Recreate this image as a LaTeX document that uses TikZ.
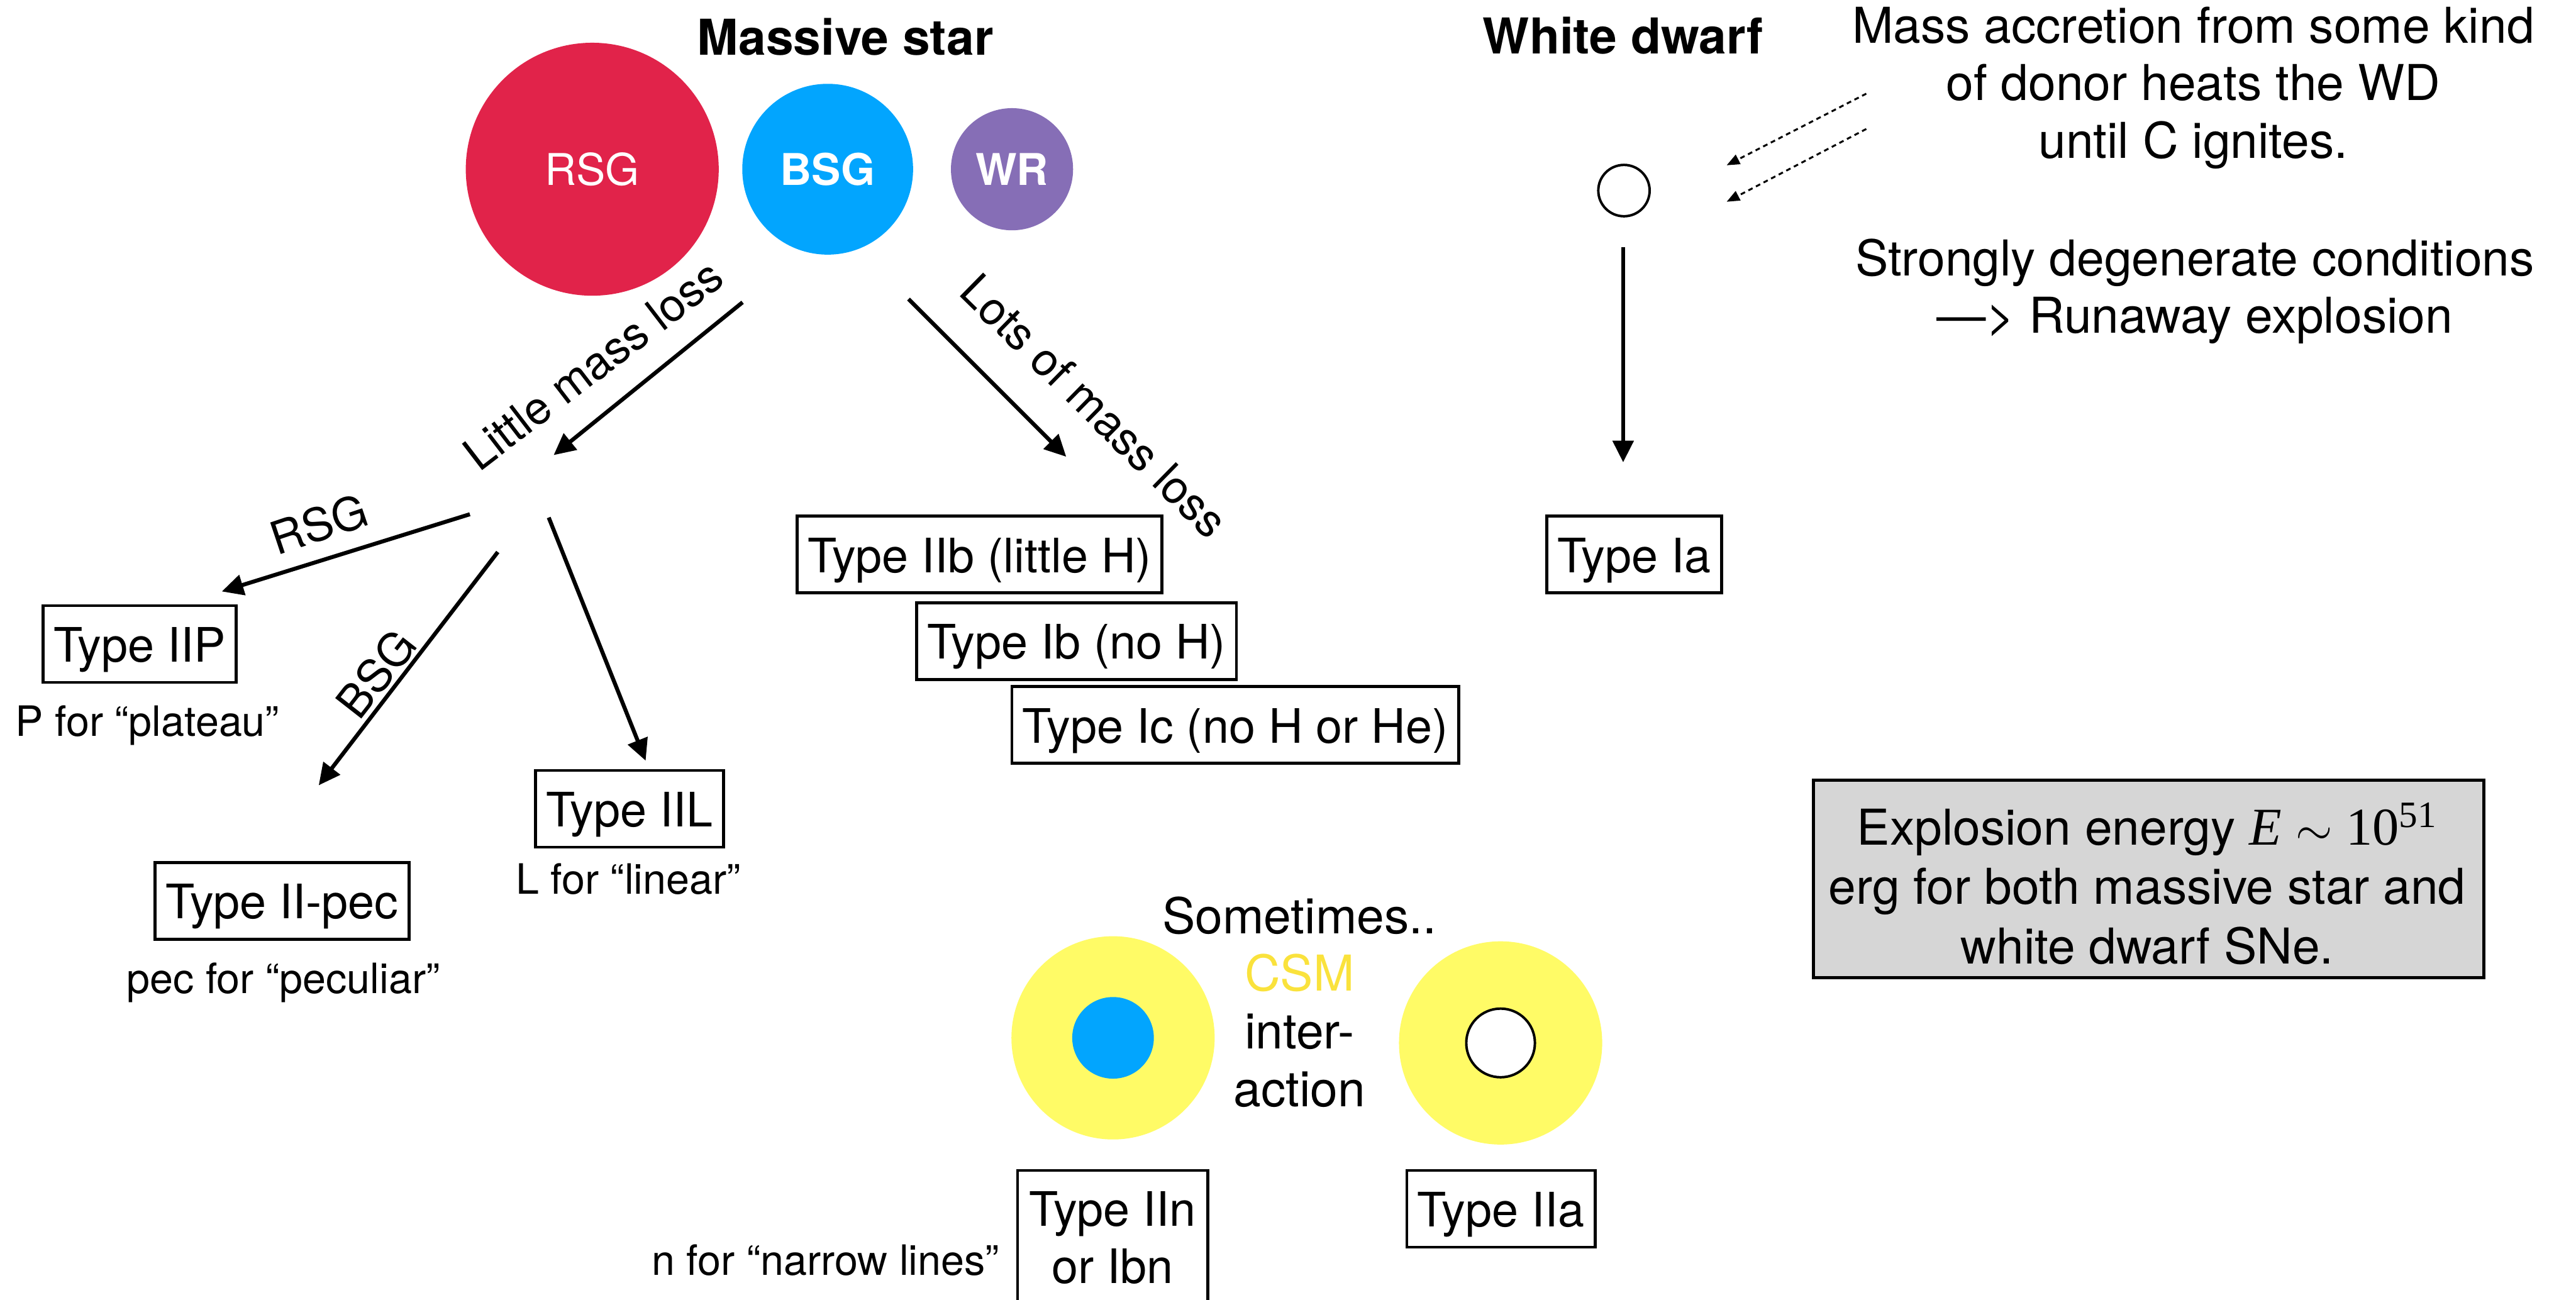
\documentclass[tikz,border=0pt]{standalone}
\usepackage{fontspec}
\setmainfont{TeX Gyre Heros}
\newfontfamily\serifE{Liberation Serif}
\usetikzlibrary{arrows.meta}
\definecolor{rsgred}{RGB}{225,35,74}
\definecolor{bsgblue}{RGB}{2,165,254}
\definecolor{wrpurple}{RGB}{134,110,182}
\definecolor{csmyellow}{RGB}{255,251,102}
\definecolor{csmtext}{RGB}{250,226,60}
\definecolor{boxgray}{RGB}{214,214,214}
\newcommand\FontMain{\fontsize{26}{30.3}\selectfont}
\newcommand\FontExpl{\fontsize{26}{31.3}\selectfont}
\newcommand\FontBoxT{\fontsize{25}{30}\selectfont}
\newcommand\FontSmall{\fontsize{22}{26}\selectfont}
\newcommand\FontRot{\fontsize{24}{28}\selectfont}
\newcommand\FontCirc{\fontsize{23}{27}\selectfont}
\begin{document}
\begin{tikzpicture}[x=0.0304cm,y=-0.0304cm,
  typebox/.style={draw, line width=1.6pt, inner xsep=5.6pt, inner ysep=3pt,
    text height=26.6pt, text depth=7.8pt, font=\FontBoxT, anchor=north},
  note/.style={font=\FontSmall, anchor=base, inner sep=0},
  para/.style={font=\FontMain, align=center, anchor=north, inner sep=0},
  arr/.style={line width=2.1pt, -{Triangle[length=0.4cm,width=0.38cm]}},
  darr/.style={line width=1pt, dash pattern=on 2.5pt off 2pt,
    -{Triangle[length=0.24cm,width=0.19cm]}},
  rotlbl/.style={font=\FontRot, inner sep=0},
  starball/.style={circle, inner sep=0, text=white, font=\FontCirc},
  title/.style={font=\bfseries\FontMain, anchor=base, inner sep=0}
]
\useasboundingbox (0,0) rectangle (1568,791);

% Massive star
\node[title] (mstitle) at (514.6,33.4) {Massive star};
\node[starball, fill=rsgred, minimum size=4.68cm] (rsg) at (360.5,103) {RSG};
\node[starball, fill=bsgblue, minimum size=3.16cm, font=\bfseries\FontCirc] (bsg) at (503.8,103) {BSG};
\node[starball, fill=wrpurple, minimum size=2.26cm, font=\bfseries\FontCirc] (wr) at (616,103) {WR};

\coordinate (lmlA) at (452,184);  \coordinate (lmlB) at (337,277);
\coordinate (lotA) at (553,182);  \coordinate (lotB) at (649,278);
\coordinate (rsgA) at (286,313);  \coordinate (rsgB) at (135,360);
\coordinate (bsgA) at (303,336);  \coordinate (bsgB) at (194,478);
\coordinate (iilA) at (334,315);  \coordinate (iilB) at (393,463);
\coordinate (iaA) at (988,150.4); \coordinate (iaB) at (988,281.4);
\coordinate (d1A) at (1136,57);   \coordinate (d1B) at (1051,100.6);
\coordinate (d2A) at (1136,78.5); \coordinate (d2B) at (1051,122.8);

\draw[arr] (lmlA) -- (lmlB);
\draw[arr] (lotA) -- (lotB);
\draw[arr] (rsgA) -- (rsgB);
\draw[arr] (bsgA) -- (bsgB);
\draw[arr] (iilA) -- (iilB);
\draw[arr] (iaA) -- (iaB);
\draw[darr] (d1A) -- (d1B);
\draw[darr] (d2A) -- (d2B);

\node[rotlbl, rotate=37.5] (lmltxt) at (361,222) {Little mass loss};
\node[rotlbl, rotate=-44.5] (lottxt) at (666,247) {Lots of mass loss};
\node[rotlbl, rotate=18.5] (rsgtxt) at (194,319) {RSG};
\node[rotlbl, rotate=52] (bsgtxt) at (229,410) {BSG};

\node[typebox] (iip) at (85,367.7) {Type IIP};
\node[note] (iipn) at (89.7,448) {P for “plateau”};
\node[typebox] (iipec) at (171.7,524) {Type II-pec};
\node[note] (iipecn) at (172.4,604.6) {pec for “peculiar”};
\node[typebox] (iil) at (383.1,468) {Type IIL};
\node[note] (iiln) at (382.4,544) {L for “linear”};
\node[typebox] (iib) at (596.3,313.3) {Type IIb (little H)};
\node[typebox] (ib) at (655.2,366) {Type Ib (no H)};
\node[typebox] (ic) at (751.9,417) {Type Ic (no H or He)};

% White dwarf
\node[title] (wdtitle) at (988,32.7) {White dwarf};
\node[circle, draw, line width=1.3pt, minimum size=0.95cm, inner sep=0] (wd) at (988.5,116) {};
\node[typebox] (ia) at (994.7,313.3) {Type Ia};
\node[para] (accr) at (1335,1.4) {\strut Mass accretion from some kind\\\strut of donor heats the WD\\\strut until C ignites.};
\node[para] (runaway) at (1336,143) {\strut Strongly degenerate conditions\\\strut —> Runaway explosion};

% Explosion energy
\node[draw, line width=1.6pt, fill=boxgray, minimum width=12.4cm, minimum height=3.65cm,
  anchor=north west, inner sep=0] (ebox) at (1103,474) {};
\node[para, font=\FontExpl] (etext) at (1307,488.5) {\strut Explosion energy {\serifE\fontsize{28}{31.3}\selectfont\itshape E}~$\sim$~{\serifE\fontsize{28}{31.3}\selectfont 10\textsuperscript{51}}\\\strut erg for both massive star and\\\strut white dwarf SNe.};

% CSM interaction
\node[circle, fill=csmyellow, minimum size=3.76cm, inner sep=0] (csm1) at (677.5,631.7) {};
\node[circle, fill=bsgblue, minimum size=1.51cm, inner sep=0] (core1) at (677.5,631.7) {};
\node[circle, fill=csmyellow, minimum size=3.76cm, inner sep=0] (csm2) at (913.4,634.8) {};
\node[circle, draw, fill=white, line width=1.3pt, minimum size=1.27cm, inner sep=0] (core2) at (913.4,634.8) {};
\node[para] (sometimes) at (791,543.5) {\strut Sometimes..\\\strut\textcolor{csmtext}{CSM}\\\strut inter-\\\strut action};

\node[draw, line width=1.6pt, font=\FontBoxT, align=center, anchor=north, inner xsep=5.6pt,
  inner ysep=8.4pt, text depth=2cm, minimum width=3.52cm] (iin) at (677.3,711.5) {\strut Type IIn\\\strut or Ibn};
\node[note] (iinn) at (502.5,776) {n for “narrow lines”};
\node[typebox] (iia) at (913.6,711.5) {Type IIa};
\end{tikzpicture}
\end{document}
